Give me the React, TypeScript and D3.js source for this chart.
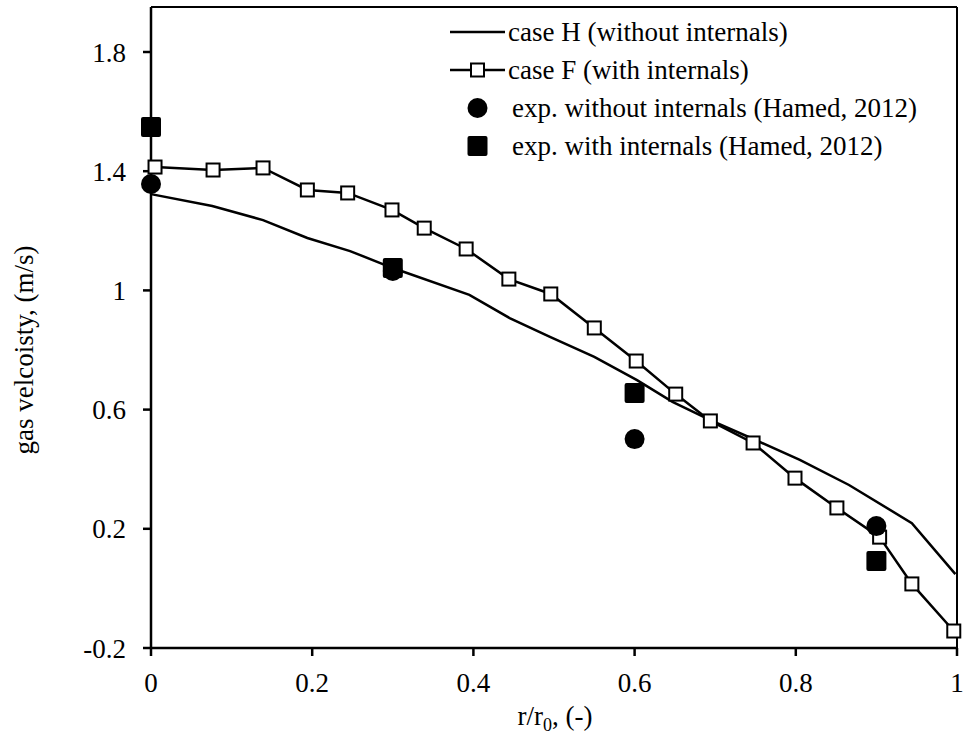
import React from "react";
import * as d3 from "d3";

const caseHX = [0, 0.076, 0.139, 0.194, 0.247, 0.3, 0.395, 0.445, 0.495, 0.55, 0.603, 0.647, 0.694, 0.75, 0.805, 0.866, 0.944, 0.998];
const caseHY = [1.323, 1.283, 1.236, 1.176, 1.132, 1.075, 0.985, 0.907, 0.844, 0.777, 0.699, 0.626, 0.565, 0.498, 0.431, 0.347, 0.219, 0.048];

const caseFX = [0.005, 0.077, 0.139, 0.194, 0.244, 0.299, 0.339, 0.391, 0.444, 0.496, 0.55, 0.602, 0.651, 0.694, 0.747, 0.799, 0.851, 0.904, 0.944, 0.996];
const caseFY = [1.414, 1.404, 1.411, 1.337, 1.327, 1.27, 1.209, 1.139, 1.038, 0.988, 0.874, 0.763, 0.652, 0.562, 0.488, 0.37, 0.27, 0.172, 0.015, -0.143];

const expNoX = [0, 0.3, 0.6, 0.9];
const expNoY = [1.357, 1.065, 0.501, 0.209];
const expWithX = [0, 0.3, 0.6, 0.9];
const expWithY = [1.548, 1.075, 0.656, 0.092];

const xTicks = [0, 0.2, 0.4, 0.6, 0.8, 1];
const yTicks = [-0.2, 0.2, 0.6, 1, 1.4, 1.8];
const xTickLabels = ["0", "0.2", "0.4", "0.6", "0.8", "1"];
const yTickLabels = ["-0.2", "0.2", "0.6", "1", "1.4", "1.8"];

const legendLabels = [
  "case H (without internals)",
  "case F (with internals)",
  "exp. without internals (Hamed, 2012)",
  "exp. with internals (Hamed, 2012)",
];

export default function App() {
  const W = 963, H = 736;
  const left = 151, right = 957, top = 7, bottom = 648;
  const x = d3.scaleLinear().domain([0, 1]).range([left, right]);
  const y = d3.scaleLinear().domain([-0.2, 1.8]).range([bottom, 52]);
  const font = "'Liberation Serif', 'Times New Roman', serif";
  const fs = 27;

  const lineGen = d3.line<[number, number]>().x(d => x(d[0])).y(d => y(d[1]));
  const hPts: [number, number][] = caseHX.map((v, i) => [v, caseHY[i]]);
  const fPts: [number, number][] = caseFX.map((v, i) => [v, caseFY[i]]);

  const legX1 = 450, legX2 = 505, legTextX = 508, legTextX2 = 512;
  const legMid = (legX1 + legX2) / 2;
  const legC = [32, 70, 108, 146];

  return (
    <svg width={W} height={H} style={{ position: "absolute", left: 0, top: 0, background: "#fff" }}
      fontFamily={font}>
      <rect x={0} y={0} width={W} height={H} fill="#fff" />
      <line x1={left} y1={top} x2={right} y2={top} stroke="#000" strokeWidth={2} />
      <line x1={right} y1={top} x2={right} y2={bottom} stroke="#000" strokeWidth={2} />
      <line x1={left} y1={top} x2={left} y2={bottom} stroke="#000" strokeWidth={2.5} />
      <line x1={left} y1={bottom} x2={right} y2={bottom} stroke="#000" strokeWidth={2.5} />
      {yTicks.map((t, i) => (
        <g key={"yt" + i}>
          <line x1={left - 8} x2={left} y1={y(t)} y2={y(t)} stroke="#000" strokeWidth={2.5} />
          <text x={126} y={y(t) + 9.5} textAnchor="end" fontSize={fs}>{yTickLabels[i]}</text>
        </g>
      ))}
      {xTicks.map((t, i) => (
        <g key={"xt" + i}>
          <line x1={x(t)} x2={x(t)} y1={bottom} y2={bottom + 8} stroke="#000" strokeWidth={2.5} />
          <text x={x(t)} y={692} textAnchor="middle" fontSize={fs}>{xTickLabels[i]}</text>
        </g>
      ))}
      <text x={555} y={725} textAnchor="middle" fontSize={fs}>
        r/r<tspan fontSize={18} dy={6}>0</tspan><tspan dy={-6}>, (-)</tspan>
      </text>
      <text transform={`translate(33,350) rotate(-90)`} textAnchor="middle" fontSize={fs}>
        gas velcoisty, (m/s)
      </text>

      <path d={lineGen(hPts) || ""} fill="none" stroke="#000" strokeWidth={2.5} />
      <path d={lineGen(fPts) || ""} fill="none" stroke="#000" strokeWidth={2.5} />
      {fPts.map((p, i) => (
        <rect key={"f" + i} x={x(p[0]) - 6.5} y={y(p[1]) - 6.5} width={13} height={13}
          fill="#fff" stroke="#000" strokeWidth={2} />
      ))}
      {expNoX.map((v, i) => (
        <circle key={"c" + i} cx={x(v)} cy={y(expNoY[i])} r={10} fill="#000" />
      ))}
      {expWithX.map((v, i) => (
        <rect key={"s" + i} x={x(v) - 10} y={y(expWithY[i]) - 10} width={20} height={20} rx={2} fill="#000" />
      ))}

      <line x1={legX1} x2={legX2} y1={legC[0]} y2={legC[0]} stroke="#000" strokeWidth={2.5} />
      <text x={legTextX} y={legC[0] + 9} fontSize={fs}>{legendLabels[0]}</text>
      <line x1={legX1} x2={legX2} y1={legC[1]} y2={legC[1]} stroke="#000" strokeWidth={2.5} />
      <rect x={legMid - 6.5} y={legC[1] - 6.5} width={13} height={13} fill="#fff" stroke="#000" strokeWidth={2} />
      <text x={legTextX} y={legC[1] + 9} fontSize={fs}>{legendLabels[1]}</text>
      <circle cx={legMid} cy={legC[2]} r={10} fill="#000" />
      <text x={legTextX2} y={legC[2] + 9} fontSize={fs}>{legendLabels[2]}</text>
      <rect x={legMid - 10} y={legC[3] - 10} width={20} height={20} rx={2} fill="#000" />
      <text x={legTextX2} y={legC[3] + 9} fontSize={fs}>{legendLabels[3]}</text>
    </svg>
  );
}
